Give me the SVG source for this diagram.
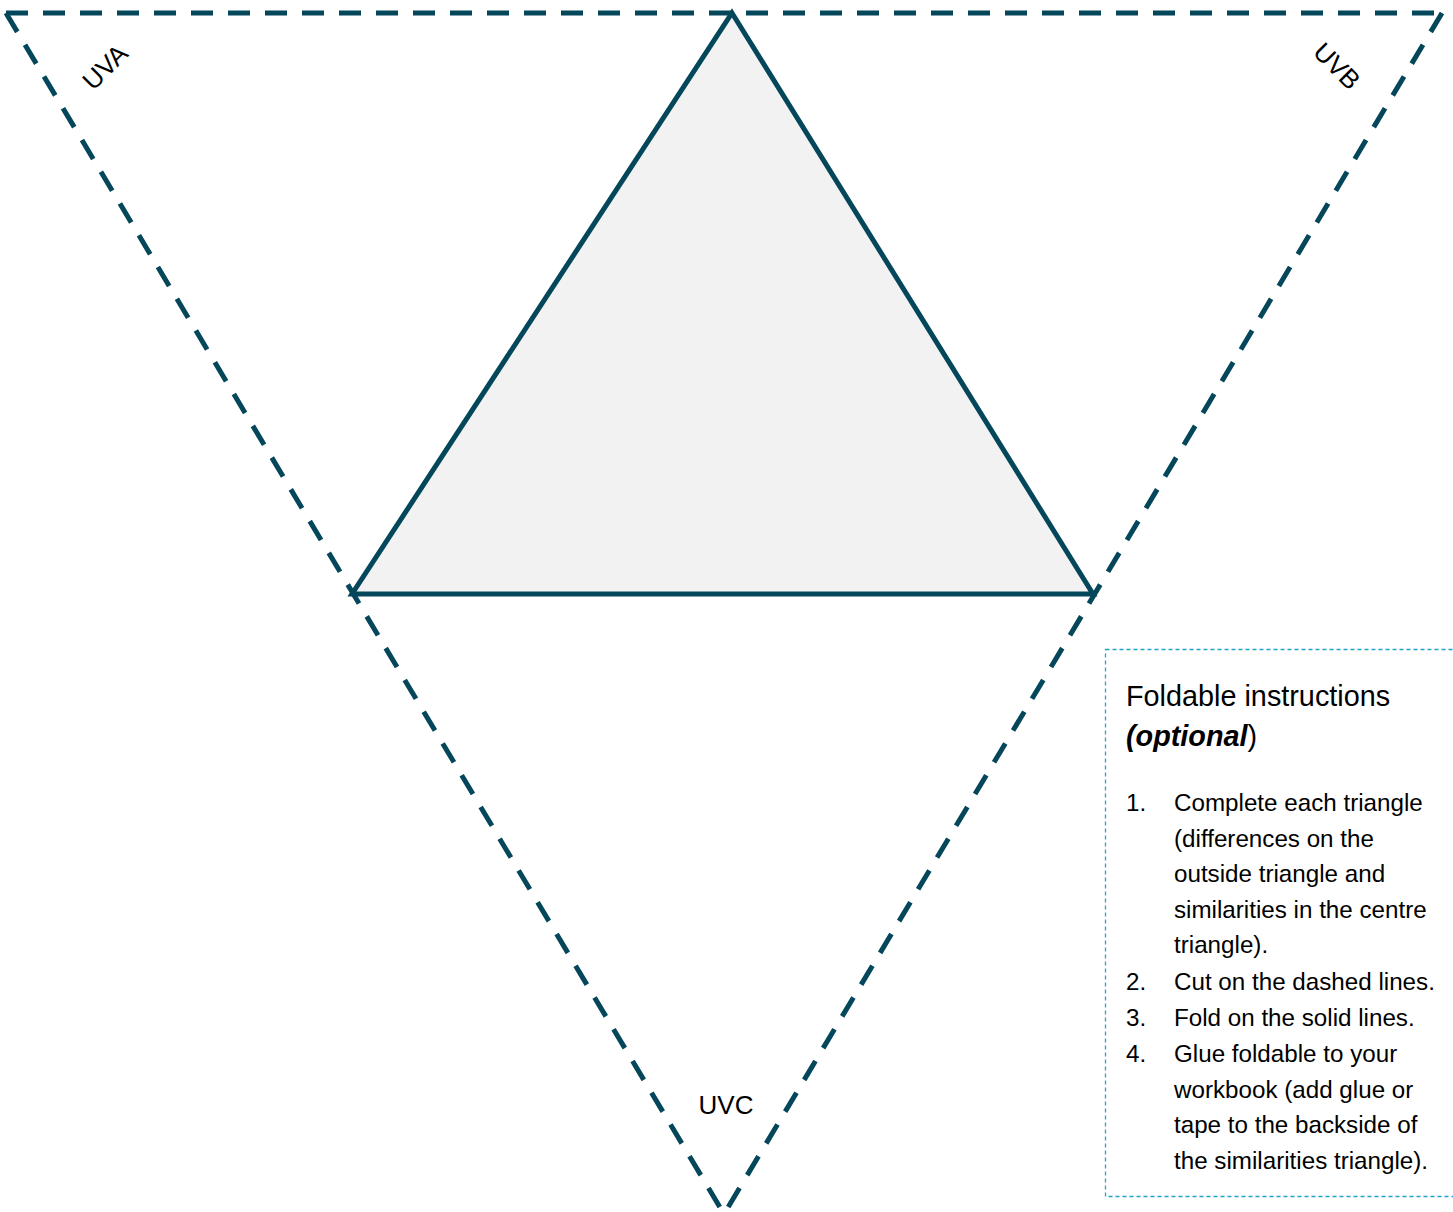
<svg xmlns="http://www.w3.org/2000/svg" width="1453" height="1212" viewBox="0 0 1453 1212">
<style>
.cut{fill:none;stroke:#05475A;stroke-width:5;stroke-dasharray:22 15}
.fold{fill:#F2F2F2;stroke:#05475A;stroke-width:5;stroke-linejoin:miter}
.lbl{font-family:"Liberation Sans",Arial,sans-serif;font-size:26px;fill:#000}
.t{font-family:"Liberation Sans",Arial,sans-serif;fill:#000}
.title{font-size:28.8px}
.li{font-size:24.2px}
.box{fill:none;stroke:#22A5C7;stroke-width:1.3;stroke-dasharray:4 3}
</style>
<rect width="1453" height="1212" fill="#fff"/>
<g id="connectors">
<line class="cut" x1="6" y1="13" x2="1442" y2="13"/>
<line class="cut" x1="6" y1="13" x2="724" y2="1214"/>
<line class="cut" x1="1442" y1="13" x2="724" y2="1214"/>
</g>
<g id="centre-triangle">
<polygon class="fold" points="732,13 1093,594 352,594"/>
</g>
<g id="label-uva">
<text class="lbl" transform="translate(105,67) rotate(-45)" text-anchor="middle" dy="9">UVA</text>
</g>
<g id="label-uvb">
<text class="lbl" transform="translate(1337,66) rotate(45)" text-anchor="middle" dy="9">UVB</text>
</g>
<g id="label-uvc">
<text class="lbl" x="726" y="1114" text-anchor="middle">UVC</text>
</g>
<g id="instructions">
<rect class="box" x="1105.5" y="649.5" width="360" height="547"/>
<text class="t title" x="1126" y="706">Foldable instructions</text>
<text class="t title" x="1126" y="746"><tspan font-weight="bold" font-style="italic">(optional</tspan>)</text>
<g class="t li">
<text x="1126" y="811">1.</text>
<text x="1174" y="811">Complete each triangle</text>
<text x="1174" y="847">(differences on the</text>
<text x="1174" y="882">outside triangle and</text>
<text x="1174" y="918">similarities in the centre</text>
<text x="1174" y="953">triangle).</text>
<text x="1126" y="990">2.</text>
<text x="1174" y="990">Cut on the dashed lines.</text>
<text x="1126" y="1026">3.</text>
<text x="1174" y="1026">Fold on the solid lines.</text>
<text x="1126" y="1062">4.</text>
<text x="1174" y="1062">Glue foldable to your</text>
<text x="1174" y="1098">workbook (add glue or</text>
<text x="1174" y="1133">tape to the backside of</text>
<text x="1174" y="1169">the similarities triangle).</text>
</g>
</g>
</svg>
